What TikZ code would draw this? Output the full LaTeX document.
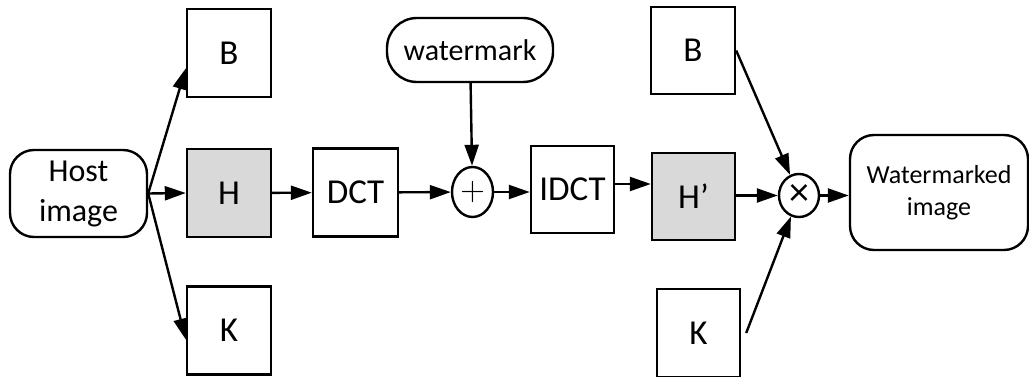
\documentclass[tikz,border=0pt]{standalone}
\usepackage{fontspec}
\setmainfont{Carlito}
\newfontfamily\lmfont{Latin Modern Roman}
\usetikzlibrary{arrows.meta,calc,shapes.geometric}
\begin{document}
\begin{tikzpicture}[x=1pt,y=-1pt,
  line width=2.4pt,
  box/.style={draw, minimum width=84pt, minimum height=88pt, inner sep=0pt, font=\fontsize{35}{40}\selectfont},
  grey/.style={fill=black!15},
  rbox/.style={draw, rounded corners=24pt, inner sep=0pt, align=center},
  op/.style={draw, ellipse, inner sep=0pt},
  arr/.style={-{Triangle[length=21pt,width=14pt]}}]
\useasboundingbox (0,0) rectangle (1029,377);
\node[rbox, minimum width=137pt, minimum height=87pt, font=\fontsize{32}{40}\selectfont] (host) at (78.5,193.5) {Host\\image};
\node[box] (B1) at (229,53) {B};
\node[box, grey] (H) at (229,193) {H};
\node[box] (K1) at (229,330.5) {K};
\node[box, minimum width=85pt] (dct) at (355.5,192.5) {DCT};
\node[op, minimum width=41pt, minimum height=50pt] (plus) at (472.5,192) {\lmfont\fontsize{34}{34}\selectfont +};
\node[rbox, rounded corners=30pt, minimum width=166pt, minimum height=64pt, font=\fontsize{30}{35}\selectfont] (wm) at (470,50) {watermark};
\node[box, minimum width=83pt, minimum height=87pt] (idct) at (572.5,189.5) {IDCT};
\node[box, grey, minimum width=83pt, minimum height=87pt] (Hp) at (693.5,196.5) {H’};
\node[box, minimum width=84pt, minimum height=87pt] (B2) at (693,50.5) {B};
\node[box, minimum width=83pt, minimum height=88pt] (K2) at (698.5,333) {K};
\node[op, minimum width=40pt, minimum height=43pt] (times) at (799,195.5) {\fontsize{40}{40}\selectfont ×};
\node[rbox, minimum width=178pt, minimum height=115pt, font=\fontsize{26}{32}\selectfont] (out) at (939,192.5) {Watermarked\\image};

\draw[arr] (host.east) -- (H.west);
\draw[arr] (host.east) -- ($(B1.south west)!0.33!(B1.north west)$);
\draw[arr] (host.east) -- ($(K1.north west)!0.6!(K1.south west)$);
\draw[arr] (H) -- (dct);
\draw[arr] (dct) -- (plus);
\draw[arr] (wm) -- (plus);
\draw[arr] (plus) -- (idct.west |- plus);
\coordinate (ie) at ([yshift=5.5pt]idct.east);
\draw[arr] (ie) -- (Hp.west |- ie);
\draw[arr] (B2.east) -- (times);
\draw[arr] (Hp.east |- times) -- (times);
\draw[arr] ([xshift=5pt]K2.east) -- (times);
\draw[arr] (times) -- (out.west |- times);
\end{tikzpicture}
\end{document}
